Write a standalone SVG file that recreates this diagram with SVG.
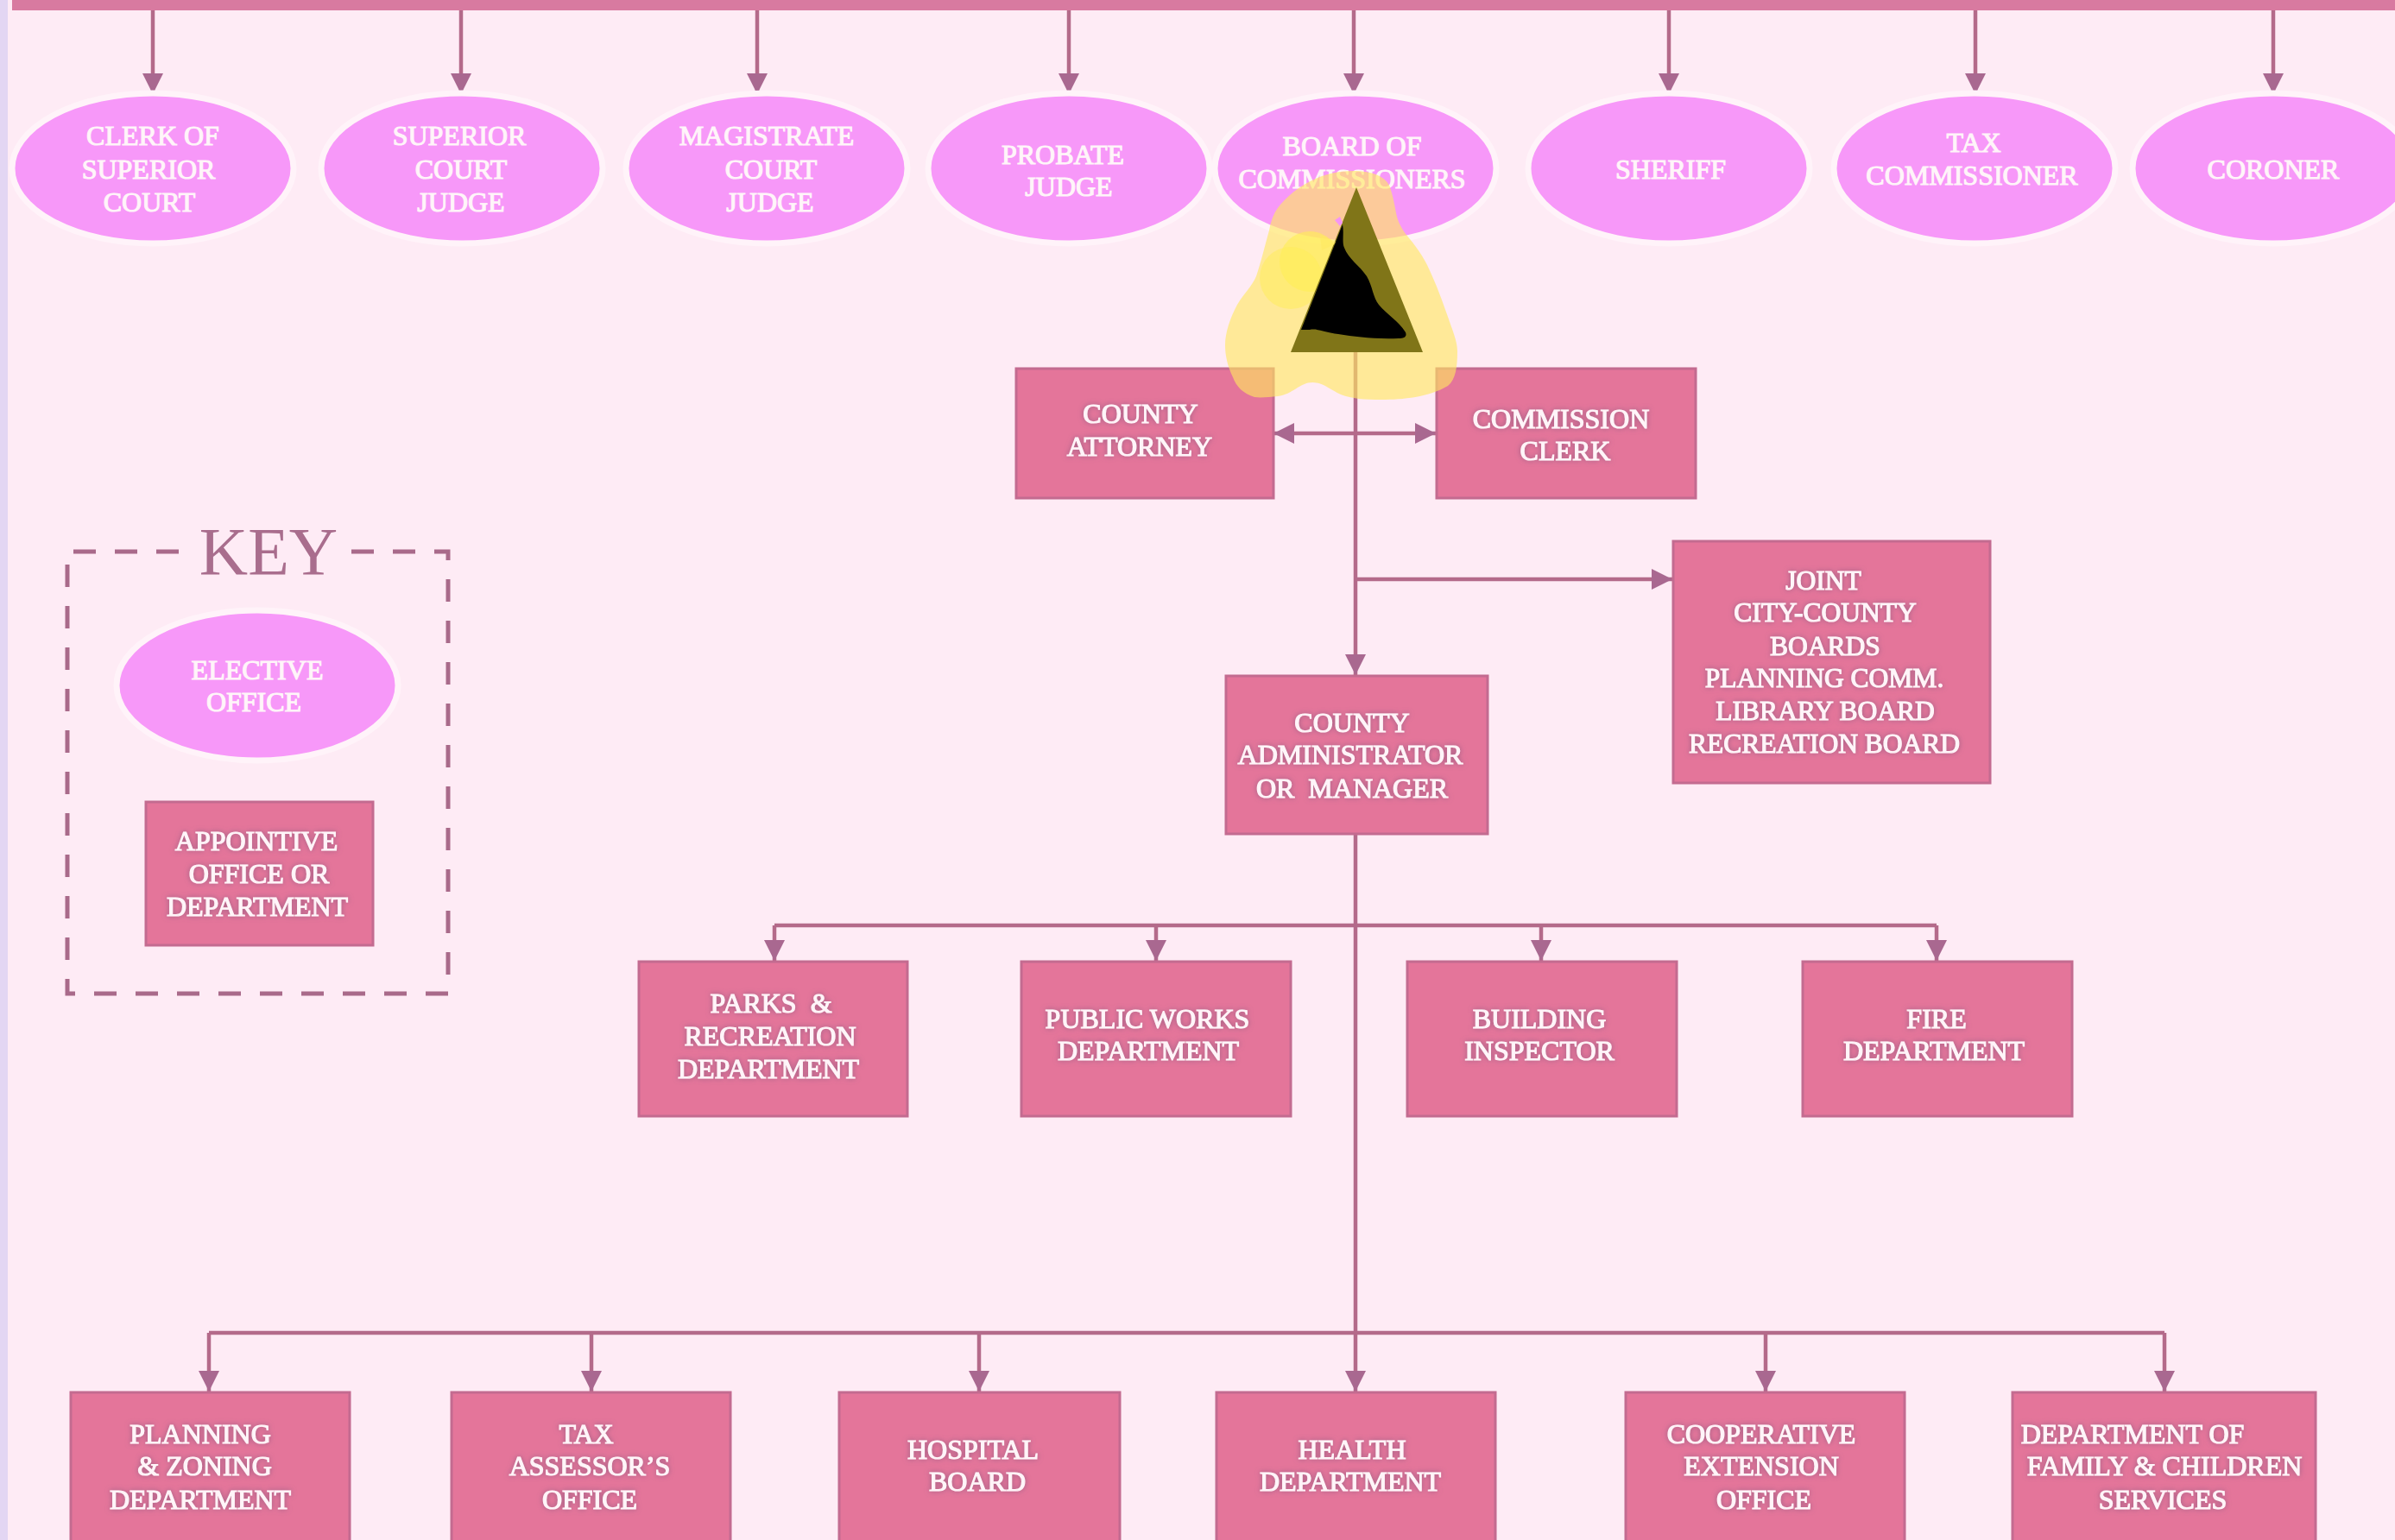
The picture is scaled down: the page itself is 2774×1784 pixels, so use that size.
<svg xmlns="http://www.w3.org/2000/svg" width="2774" height="1784" viewBox="0 0 2774 1784">
<style>
.e{fill:#f798f9;stroke:#fff3f9;stroke-width:7}
.r{fill:#e4759a;stroke:#c36b90;stroke-width:3}
.c{fill:none;stroke:#b46a8a;stroke-width:4.5}
.a{marker-end:url(#h)}
.d{marker-start:url(#h);marker-end:url(#h)}
text{font-family:"Liberation Serif","Times New Roman",serif;font-size:32px;fill:#fff5f9;stroke:#fff5f9;stroke-width:1.1px;text-anchor:middle;white-space:pre}
.s{filter:url(#sh)}
</style>
<defs>
<marker id="h" viewBox="0 0 24 24" refX="24" refY="12" markerWidth="24" markerHeight="24" markerUnits="userSpaceOnUse" orient="auto-start-reverse"><path d="M0 0L24 12L0 24Z" fill="#a96890"/></marker>
<filter id="sh" x="-10%" y="-20%" width="120%" height="140%"><feGaussianBlur in="SourceAlpha" stdDeviation="3" result="b"/><feFlood flood-color="#8e5a80" flood-opacity=".85"/><feComposite in2="b" operator="in"/><feMerge><feMergeNode/><feMergeNode in="SourceGraphic"/></feMerge></filter>
</defs>
<rect width="2774" height="1784" fill="#feebf5"/>
<rect width="9" height="1784" fill="#e3d6f3"/>
<rect x="14" y="0" width="2760" height="12" fill="#d87aa0"/>
<g id="connectors">
<path class="c a" d="M177 12V109"/><path class="c a" d="M534 12V109"/><path class="c a" d="M877 12V109"/><path class="c a" d="M1238 12V109"/><path class="c a" d="M1568 12V109"/><path class="c a" d="M1933 12V109"/><path class="c a" d="M2288 12V109"/><path class="c a" d="M2633 12V109"/>
<path class="c a" d="M1570 300V782"/>
<path class="c d" d="M1475 502H1663"/>
<path class="c a" d="M1570 671H1937"/>
<path class="c a" d="M1570 966V1612"/>
<path class="c" d="M897 1072H2243"/>
<path class="c a" d="M897 1072V1113"/><path class="c a" d="M1339 1072V1113"/><path class="c a" d="M1785 1072V1113"/><path class="c a" d="M2243 1072V1113"/>
<path class="c" d="M242 1544H2507"/>
<path class="c a" d="M242 1544V1612"/><path class="c a" d="M685 1544V1612"/><path class="c a" d="M1134 1544V1612"/><path class="c a" d="M2045 1544V1612"/><path class="c a" d="M2507 1544V1612"/>
</g>
<g id="clerk-of-superior-court"><ellipse class="e" cx="177" cy="195" rx="163" ry="87"/><text><tspan x="177" y="168">CLERK OF</tspan><tspan x="172" y="207">SUPERIOR</tspan><tspan x="173" y="245">COURT</tspan></text></g>
<g id="superior-court-judge"><ellipse class="e" cx="535" cy="195" rx="163" ry="87"/><text><tspan x="532" y="168">SUPERIOR</tspan><tspan x="534" y="207">COURT</tspan><tspan x="534" y="245">JUDGE</tspan></text></g>
<g id="magistrate-court-judge"><ellipse class="e" cx="888" cy="195" rx="163" ry="87"/><text><tspan x="888" y="168">MAGISTRATE</tspan><tspan x="893" y="207">COURT</tspan><tspan x="892" y="245">JUDGE</tspan></text></g>
<g id="probate-judge"><ellipse class="e" cx="1238" cy="195" rx="163" ry="87"/><text><tspan x="1231" y="190">PROBATE</tspan><tspan x="1238" y="227">JUDGE</tspan></text></g>
<g id="board-of-commissioners"><ellipse class="e" cx="1570" cy="195" rx="163" ry="87"/><text><tspan x="1566" y="180">BOARD OF</tspan><tspan x="1566" y="218">COMMISSIONERS</tspan></text></g>
<g id="sheriff"><ellipse class="e" cx="1933" cy="195" rx="163" ry="87"/><text x="1935" y="207">SHERIFF</text></g>
<g id="tax-commissioner"><ellipse class="e" cx="2287" cy="195" rx="163" ry="87"/><text><tspan x="2286" y="176">TAX</tspan><tspan x="2284" y="214">COMMISSIONER</tspan></text></g>
<g id="coroner"><ellipse class="e" cx="2633" cy="195" rx="163" ry="87"/><text x="2633" y="207">CORONER</text></g>
<g id="county-attorney"><rect class="r" x="1177" y="427" width="298" height="150"/><text class="s"><tspan x="1321" y="490">COUNTY</tspan><tspan x="1320" y="528">ATTORNEY</tspan></text></g>
<g id="commission-clerk"><rect class="r" x="1664" y="427" width="300" height="150"/><text class="s"><tspan x="1808" y="496">COMMISSION</tspan><tspan x="1813" y="533">CLERK</tspan></text></g>
<g id="joint-boards"><rect class="r" x="1938" y="627" width="367" height="280"/><text class="s" style="font-size:31.5px"><tspan x="2112" y="683">JOINT</tspan><tspan x="2114" y="720">CITY-COUNTY</tspan><tspan x="2114" y="759">BOARDS</tspan><tspan x="2113" y="796">PLANNING COMM.</tspan><tspan x="2114" y="834">LIBRARY BOARD</tspan><tspan x="2113" y="872">RECREATION BOARD</tspan></text></g>
<g id="county-administrator"><rect class="r" x="1420" y="783" width="303" height="183"/><text class="s"><tspan x="1566" y="848">COUNTY</tspan><tspan x="1564" y="885">ADMINISTRATOR</tspan><tspan x="1566" y="924">OR  MANAGER</tspan></text></g>
<g id="parks"><rect class="r" x="740" y="1114" width="311" height="179"/><text class="s"><tspan x="893" y="1173">PARKS  &amp;</tspan><tspan x="892" y="1211">RECREATION</tspan><tspan x="890" y="1249">DEPARTMENT</tspan></text></g>
<g id="public-works"><rect class="r" x="1183" y="1114" width="312" height="179"/><text class="s"><tspan x="1329" y="1191">PUBLIC WORKS</tspan><tspan x="1330" y="1228">DEPARTMENT</tspan></text></g>
<g id="building-inspector"><rect class="r" x="1630" y="1114" width="312" height="179"/><text class="s"><tspan x="1783" y="1191">BUILDING</tspan><tspan x="1783" y="1228">INSPECTOR</tspan></text></g>
<g id="fire"><rect class="r" x="2088" y="1114" width="312" height="179"/><text class="s"><tspan x="2243" y="1191">FIRE</tspan><tspan x="2240" y="1228">DEPARTMENT</tspan></text></g>
<g id="planning"><rect class="r" x="82" y="1613" width="323" height="190"/><text class="s"><tspan x="232" y="1672">PLANNING</tspan><tspan x="237" y="1709">&amp; ZONING</tspan><tspan x="232" y="1748">DEPARTMENT</tspan></text></g>
<g id="tax-assessor"><rect class="r" x="523" y="1613" width="323" height="190"/><text class="s"><tspan x="679" y="1672">TAX</tspan><tspan x="683" y="1709">ASSESSOR’S</tspan><tspan x="683" y="1748">OFFICE</tspan></text></g>
<g id="hospital"><rect class="r" x="972" y="1613" width="325" height="190"/><text class="s"><tspan x="1127" y="1690">HOSPITAL</tspan><tspan x="1132" y="1727">BOARD</tspan></text></g>
<g id="health"><rect class="r" x="1409" y="1613" width="323" height="190"/><text class="s"><tspan x="1566" y="1690">HEALTH</tspan><tspan x="1564" y="1727">DEPARTMENT</tspan></text></g>
<g id="cooperative"><rect class="r" x="1883" y="1613" width="323" height="190"/><text class="s"><tspan x="2040" y="1672">COOPERATIVE</tspan><tspan x="2040" y="1709">EXTENSION</tspan><tspan x="2043" y="1748">OFFICE</tspan></text></g>
<g id="dfcs"><rect class="r" x="2331" y="1613" width="351" height="190"/><text class="s"><tspan x="2470" y="1672">DEPARTMENT OF</tspan><tspan x="2507" y="1709">FAMILY &amp; CHILDREN</tspan><tspan x="2505" y="1748">SERVICES</tspan></text></g>
<g id="key">
<path fill="none" stroke="#a96a8a" stroke-width="5" stroke-dasharray="26 22" d="M207 639H78V1151H519V639H398"/>
<text x="311" y="665" style="font-size:78px;fill:#a96d8d;stroke:none">KEY</text>
<ellipse class="e" cx="298" cy="794" rx="163" ry="87"/><text><tspan x="298" y="787">ELECTIVE</tspan><tspan x="294" y="824">OFFICE</tspan></text>
<rect class="r" x="169" y="929" width="263" height="166"/><text class="s"><tspan x="297" y="985">APPOINTIVE</tspan><tspan x="300" y="1023">OFFICE OR</tspan><tspan x="298" y="1061">DEPARTMENT</tspan></text>
</g>
<g id="highlight">
<path fill="#ffe95f" fill-opacity=".62" d="M1483 237C1505 212 1535 198 1567 198C1590 198 1606 205 1610 217C1616 235 1616 247 1620 257C1624 266 1628 271 1633 277C1642 288 1648 297 1653 307C1664 330 1671 350 1677 367C1682 382 1688 395 1688 407C1688 425 1686 440 1677 447C1655 460 1625 463 1600 463C1580 463 1566 462 1553 457C1540 451 1532 443 1520 443C1506 443 1497 457 1480 459C1470 460 1460 461 1453 460C1440 456 1432 448 1428 437C1422 425 1419 412 1419 400C1419 385 1425 368 1433 353C1442 338 1450 332 1455 320C1460 305 1465 285 1470 267C1472 255 1476 245 1483 237Z"/>
<circle cx="1517" cy="303" r="35" fill="#ffee55" fill-opacity=".6"/>
<circle cx="1495" cy="322" r="36" fill="#ffee55" fill-opacity=".5"/>
<path d="M1571 217L1648 408H1495Z" fill="#807518"/>
<path fill="#ffe95f" fill-opacity=".55" d="M1529 272L1550 281L1531 290Z"/>
<path d="M1555 260C1557 270 1554 280 1557 287C1562 300 1575 308 1583 320C1590 332 1590 344 1597 353C1606 364 1620 372 1628 385C1630 390 1626 392 1620 392C1590 393 1570 390 1550 387C1535 385 1525 380 1517 382L1507 382Z" fill="#000"/>
<path d="M1546 255L1552 251L1555 258L1552 262Z" fill="#f595f5"/>
</g>
</svg>
